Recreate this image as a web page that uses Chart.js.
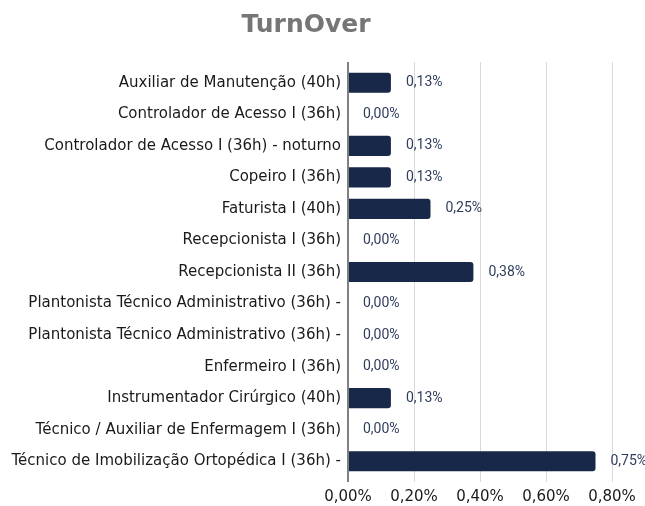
<!DOCTYPE html>
<html>
<head>
<meta charset="utf-8">
<script src="https://cdn.jsdelivr.net/npm/chart.js@4/dist/chart.umd.min.js"></script>
<style>
  html, body { margin: 0; padding: 0; background: #ffffff; }
  #wrap { width: 645px; height: 506px; }
</style>
</head>
<body>
<div id="wrap"><canvas id="turnoverChart"></canvas></div>
<script>
const categories = [
  'Auxiliar de Manutenção (40h)',
  'Controlador de Acesso I (36h)',
  'Controlador de Acesso I (36h) - noturno',
  'Copeiro I (36h)',
  'Faturista I (40h)',
  'Recepcionista I (36h)',
  'Recepcionista II (36h)',
  'Plantonista Técnico Administrativo (36h) -',
  'Plantonista Técnico Administrativo (36h) -',
  'Enfermeiro I (36h)',
  'Instrumentador Cirúrgico (40h)',
  'Técnico / Auxiliar de Enfermagem I (36h)',
  'Técnico de Imobilização Ortopédica I (36h) -'
];
const turnoverPct = [0.13, 0, 0.13, 0.13, 0.25, 0, 0.38, 0, 0, 0, 0.13, 0, 0.75];
const xTickValues = [0, 0.2, 0.4, 0.6, 0.8];

const fmtPct = v => Number(v).toFixed(2).replace('.', ',') + '%';

const barColor = '#172849';
const gridColor = ctx => (ctx.tick && ctx.tick.value === 0) ? '#808080' : '#d9d9d9';
const gridWidth = ctx => (ctx.tick && ctx.tick.value === 0) ? 2 : 1;

// draws the value next to the end of each bar
const valueLabels = {
  id: 'valueLabels',
  afterDatasetsDraw(chart) {
    const ctx = chart.ctx;
    const meta = chart.getDatasetMeta(0);
    ctx.save();
    ctx.font = '14px Roboto';
    ctx.fillStyle = '#2f3d5c';
    ctx.textAlign = 'left';
    ctx.textBaseline = 'middle';
    meta.data.forEach((bar, i) => {
      ctx.fillText(fmtPct(chart.data.datasets[0].data[i]), bar.x + 15, bar.y);
    });
    ctx.restore();
  }
};

new Chart(document.getElementById('turnoverChart'), {
  type: 'bar',
  data: {
    labels: categories,
    datasets: [{
      label: 'TurnOver',
      data: turnoverPct,
      backgroundColor: barColor,
      borderRadius: 3,
      barPercentage: 0.64,
      categoryPercentage: 1
    }]
  },
  options: {
    indexAxis: 'y',
    responsive: true,
    maintainAspectRatio: false,
    animation: false,
    layout: { padding: { left: 0, right: 33, top: 0, bottom: -6 } },
    plugins: {
      legend: { display: false },
      tooltip: { enabled: false },
      title: {
        display: true,
        text: 'TurnOver',
        color: '#767676',
        font: { family: 'DejaVu Sans', size: 25, weight: 'bold' },
        padding: { top: 10, bottom: 22 }
      }
    },
    scales: {
      x: {
        position: 'bottom',
        min: xTickValues[0],
        max: xTickValues[xTickValues.length - 1],
        border: { display: false },
        grid: { color: gridColor, lineWidth: gridWidth, tickLength: 5 },
        ticks: {
          stepSize: xTickValues[1] - xTickValues[0],
          padding: 6,
          color: '#1a1a1a',
          font: { family: 'DejaVu Sans', size: 15 },
          callback: v => fmtPct(v)
        }
      },
      x2: {
        position: 'top',
        axis: 'x',
        min: xTickValues[0],
        max: xTickValues[xTickValues.length - 1],
        border: { display: false },
        grid: { color: gridColor, lineWidth: gridWidth, tickLength: 5, drawOnChartArea: false },
        ticks: { stepSize: xTickValues[1] - xTickValues[0], display: false }
      },
      y: {
        border: { display: false },
        grid: { display: false, drawTicks: false },
        ticks: {
          padding: 7,
          color: '#1a1a1a',
          font: { family: 'DejaVu Sans', size: 15 }
        },
        afterFit(scale) { scale.width = 348; }
      }
    }
  },
  plugins: [valueLabels]
});
</script>
</body>
</html>
